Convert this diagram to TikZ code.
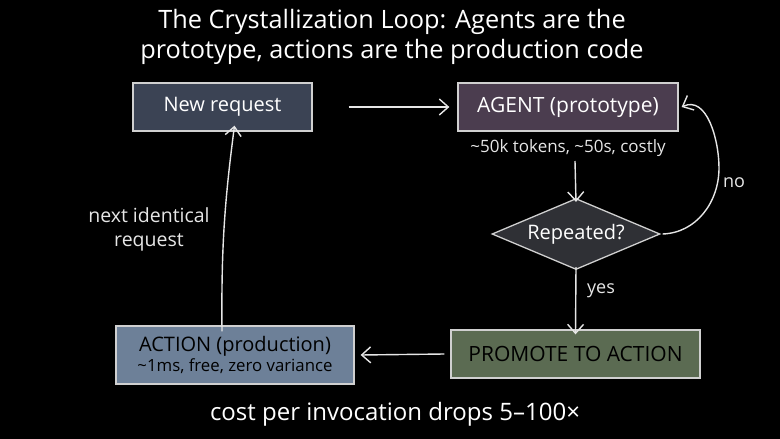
\documentclass[tikz,border=0pt]{standalone}
\usepackage{fontspec}
\setmainfont{Open Sans}
\usetikzlibrary{shapes.geometric,arrows.meta}
\definecolor{bg}{HTML}{000000}
\definecolor{ink}{HTML}{E6E6E6}
\definecolor{edge}{HTML}{D0D0D0}
\definecolor{newfill}{HTML}{3B4354}
\definecolor{agentfill}{HTML}{4B3D4F}
\definecolor{diafill}{HTML}{2F3035}
\definecolor{promfill}{HTML}{5B6B52}
\definecolor{actfill}{HTML}{6D8098}
\newcommand{\tld}{{\char126}}
\tikzset{
  box/.style={draw=edge, line width=1.3pt, rectangle, inner sep=0pt, font=\fontsize{20}{24}\selectfont},
  lbl/.style={text=ink, inner sep=0pt, font=\fontsize{17}{22}\selectfont, align=center},
  conn/.style={draw=ink, line width=1.4pt, -{Straight Barb[length=9pt,width=16pt,line width=1.4pt]}},
}
\begin{document}
\begin{tikzpicture}[x=1pt,y=-1pt]
\fill[bg] (0,0) rectangle (780,439);
\useasboundingbox (0,0) rectangle (780,439);
\node[text=white, align=center, inner sep=0pt, font=\fontsize{25.3}{30}\selectfont] (title) at (392,37) {The Crystallization Loop: Agents are the\\prototype, actions are the production code};
\node[box, fill=newfill, text=white, minimum width=179pt, minimum height=48pt] (newreq) at (222.5,107) {New request};
\node[box, fill=agentfill, text=white, minimum width=220pt, minimum height=48pt, font=\fontsize{21}{24}\selectfont] (agent) at (568,107) {AGENT (prototype)};
\node[lbl, font=\fontsize{17}{20}\selectfont] (cost) at (568,148) {\tld50k tokens, \tld50s, costly};
\node[box, diamond, fill=diafill, text=white, minimum width=168pt, minimum height=71pt, aspect=2.37] (dia) at (576,234) {Repeated?};
\node[box, fill=promfill, text=black, minimum width=249pt, minimum height=48pt, font=\fontsize{21}{24}\selectfont] (promote) at (575.5,354) {PROMOTE TO ACTION};
\node[box, fill=actfill, text=black, minimum width=238pt, minimum height=58pt, align=center] (action) at (235,355) {ACTION (production)\\[-4pt]{\fontsize{16.8}{19}\selectfont \tld1ms, free, zero variance}};
\node[lbl, font=\fontsize{19.5}{24}\selectfont] (nextlbl) at (149,229) {next identical\\request};
\node[lbl, font=\fontsize{18}{22}\selectfont] (nolbl) at (734,183) {no};
\node[lbl, font=\fontsize{18}{22}\selectfont] (yeslbl) at (601,291) {yes};
\node[lbl, text=white, font=\fontsize{24}{28}\selectfont] (bottom) at (395,414) {cost per invocation drops 5\textendash100\texttimes};
\coordinate (noturn) at (719,168);
\coordinate (costbot) at (575,161);
\draw[conn] (newreq.east) ++(36,0) coordinate (n1) -- ([xshift=-8pt]agent.west);
\draw[conn] (costbot) -- ([yshift=-4pt]dia.north);
\draw[conn] ([yshift=3pt]dia.south) -- ([yshift=-5pt]promote.north);
\draw[conn] ([xshift=-6pt]promote.west) -- ([xshift=6pt]action.east);
\draw[conn] ([xshift=-13pt,yshift=-6pt]action.north) to[bend left=4] ([xshift=12pt,yshift=6pt]newreq.south);
\draw[conn] ([xshift=2pt]dia.east) to[out=2,in=-90] (noturn) to[out=90,in=25] ([xshift=3pt]agent.east);
\end{tikzpicture}
\end{document}
